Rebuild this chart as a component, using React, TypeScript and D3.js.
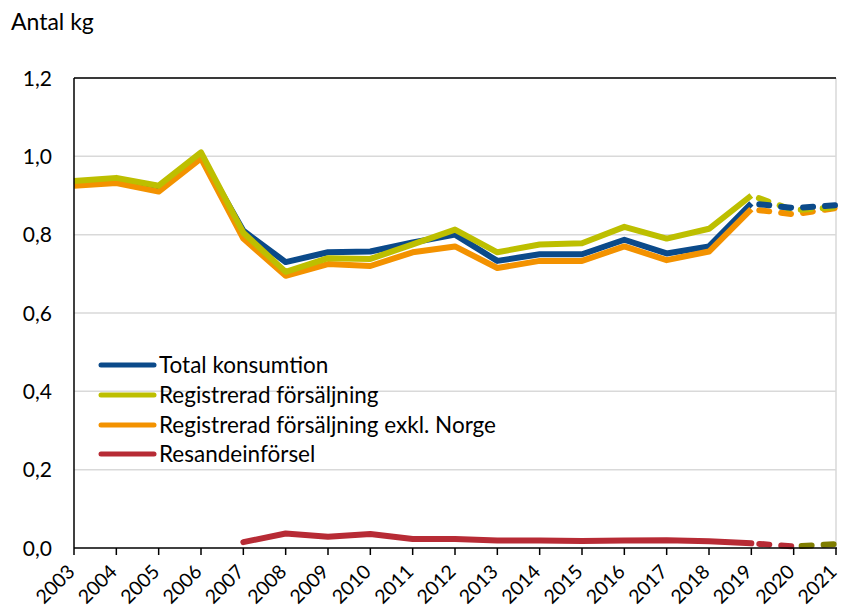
import React from "react";
import * as d3 from "d3";

const years = [2003,2004,2005,2006,2007,2008,2009,2010,2011,2012,2013,2014,2015,2016,2017,2018,2019,2020,2021];
const total = [0.930,0.935,0.915,1.000,0.810,0.730,0.755,0.757,0.780,0.800,0.733,0.750,0.750,0.787,0.752,0.770,0.880,0.868,0.875];
const registrerad = [0.937,0.945,0.925,1.010,0.805,0.705,0.740,0.738,0.775,0.813,0.755,0.775,0.778,0.820,0.790,0.815,0.900,0.862,0.870];
const exklNorge = [0.925,0.932,0.910,0.995,0.790,0.695,0.725,0.720,0.755,0.770,0.715,0.733,0.733,0.770,0.735,0.757,0.865,0.852,0.868];
const resande = [null,null,null,null,0.015,0.037,0.029,0.036,0.023,0.023,0.019,0.019,0.018,0.019,0.020,0.017,0.012,0.004,0.010];
const yTicks = [0,0.2,0.4,0.6,0.8,1.0,1.2];
const legendLabels = ["Total konsumtion","Registrerad försäljning","Registrerad försäljning exkl. Norge","Resandeinförsel"];
const colors = { total: "#0b4a8a", reg: "#bdbf00", exkl: "#f39200", res: "#b72b35", olive: "#7f7d00" };

const W = 841, H = 610;
const m = { left: 74, right: 836, top: 78, bottom: 548 };
const font = "Lato, 'Open Sans', sans-serif";

export default function App() {
  const x = d3.scaleLinear().domain([2003, 2021]).range([m.left, m.right]);
  const y = d3.scaleLinear().domain([0, 1.2]).range([m.bottom, m.top]);
  const solidEnd = 2019;
  type P = [number, number | null];
  const mk = (vals: (number | null)[]): P[] => years.map((yr, i) => [yr, vals[i]]);
  const line = d3.line<P>().defined(d => d[1] !== null).x(d => x(d[0])).y(d => y(d[1] as number));
  const solid = (vals: (number | null)[]) => line(mk(vals).filter(d => d[0] <= solidEnd)) || "";
  const dashed = (vals: (number | null)[], from = solidEnd, to = 2021) =>
    line(mk(vals).filter(d => d[0] >= from && d[0] <= to)) || "";
  const sw = 6;
  const dash = "10 12";
  const series = [
    { vals: total, c: colors.total },
    { vals: exklNorge, c: colors.exkl },
    { vals: registrerad, c: colors.reg },
  ];
  const legendY = [365, 395, 425, 454];
  const legendColors = [colors.total, colors.reg, colors.exkl, colors.res];
  return (
    <svg width={W} height={H} style={{ display: "block", position: "absolute", left: 0, top: 0 }} fontFamily={font}>
      <rect width={W} height={H} fill="#fff" />
      <text x={11} y={30} fontSize={23} fill="#000">Antal kg</text>
      {yTicks.map(t => (
        <g key={t}>
          {t > 0 && <line x1={m.left} x2={m.right} y1={y(t)} y2={y(t)} stroke="#d9d9d9" strokeWidth={1.5} />}
          <text x={52} y={y(t) + 7.5} fontSize={21} textAnchor="end" fill="#000">{d3.format(".1f")(t).replace(".", ",")}</text>
        </g>
      ))}
      <line x1={m.right} x2={m.right} y1={m.top} y2={m.bottom} stroke="#d9d9d9" strokeWidth={1.5} />
      {series.map((s, i) => (
        <path key={i} d={solid(s.vals)} fill="none" stroke={s.c} strokeWidth={sw} strokeLinejoin="round" />
      ))}
      <path d={solid(resande)} fill="none" stroke={colors.res} strokeWidth={sw} strokeLinecap="round" strokeLinejoin="round" />
      {[series[1], series[2], series[0]].map((s, i) => (
        <path key={"d" + i} d={dashed(s.vals)} fill="none" stroke={s.c} strokeWidth={sw} strokeDasharray={dash} strokeLinecap="round" strokeDashoffset={-8} />
      ))}
      <path d={dashed(resande, 2019, 2020)} fill="none" stroke={colors.res} strokeWidth={sw} strokeDasharray={dash} strokeLinecap="round" strokeDashoffset={-8} />
      <path d={dashed(resande, 2020, 2021)} fill="none" stroke={colors.olive} strokeWidth={sw} strokeDasharray={dash} strokeLinecap="round" strokeDashoffset={-8} />
      <line x1={m.left} x2={m.left} y1={m.top} y2={m.bottom} stroke="#000" strokeWidth={1.5} />
      <line x1={m.left} x2={m.right} y1={m.top} y2={m.top} stroke="#000" strokeWidth={1.5} />
      <line x1={m.left} x2={m.right + 1} y1={m.bottom} y2={m.bottom} stroke="#000" strokeWidth={1.5} />
      {years.map(yr => (
        <g key={yr}>
          <line x1={x(yr)} x2={x(yr)} y1={m.bottom} y2={m.bottom + 7} stroke="#000" strokeWidth={1.5} />
          <text transform={`translate(${x(yr) + 2},${m.bottom + 25}) rotate(-45)`} fontSize={19.5} textAnchor="end" fill="#000">{yr}</text>
        </g>
      ))}
      {legendLabels.map((l, i) => (
        <g key={l}>
          <line x1={101} x2={154} y1={legendY[i]} y2={legendY[i]} stroke={legendColors[i]} strokeWidth={5} strokeLinecap="round" />
          <text x={159} y={legendY[i] + 8} fontSize={22.5} fill="#000">{l}</text>
        </g>
      ))}
    </svg>
  );
}
